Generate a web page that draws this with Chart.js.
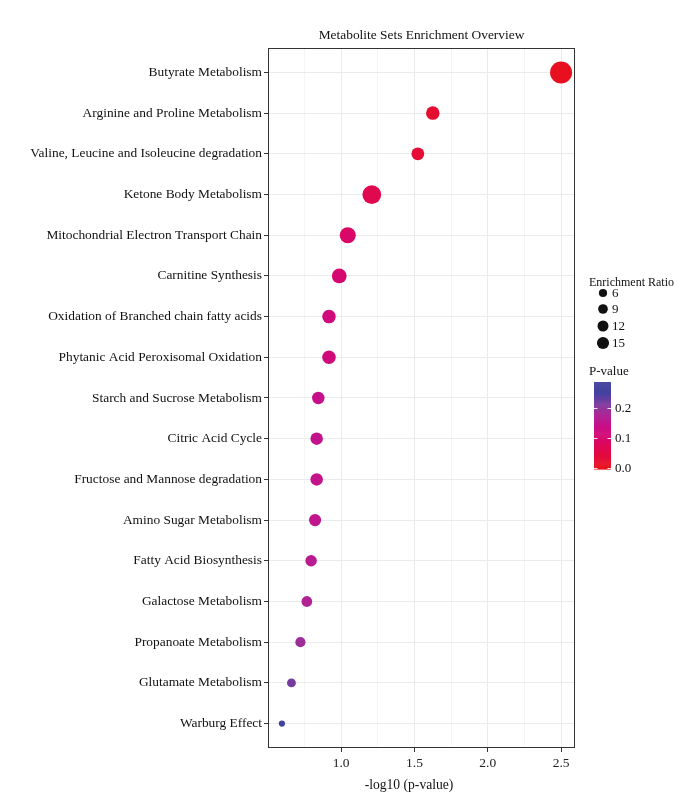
<!DOCTYPE html>
<html>
<head>
<meta charset="utf-8">
<script src="https://cdn.jsdelivr.net/npm/chart.js@4"></script>
<style>
html,body{margin:0;padding:0;background:#fff;}
#wrap{width:689px;height:805px;}
</style>
</head>
<body>
<div id="wrap"><canvas id="c" width="689" height="805"></canvas></div>
<script>
const categories = [
  "Butyrate Metabolism",
  "Arginine and Proline Metabolism",
  "Valine, Leucine and Isoleucine degradation",
  "Ketone Body Metabolism",
  "Mitochondrial Electron Transport Chain",
  "Carnitine Synthesis",
  "Oxidation of Branched chain fatty acids",
  "Phytanic Acid Peroxisomal Oxidation",
  "Starch and Sucrose Metabolism",
  "Citric Acid Cycle",
  "Fructose and Mannose degradation",
  "Amino Sugar Metabolism",
  "Fatty Acid Biosynthesis",
  "Galactose Metabolism",
  "Propanoate Metabolism",
  "Glutamate Metabolism",
  "Warburg Effect"
];
const negLog10P = [2.50, 1.625, 1.523, 1.209, 1.045, 0.987, 0.917, 0.917, 0.844, 0.833, 0.833, 0.822, 0.795, 0.766, 0.722, 0.661, 0.596];
const enrichmentRatio = [53, 19, 17, 38, 27.6, 23, 19, 19, 16, 16, 16, 15, 13.3, 11.5, 10, 7.3, 2.8];
const xTicks = [0.75, 1.0, 1.25, 1.5, 1.75, 2.0, 2.25, 2.5];
const sizeLegendValues = [6, 9, 12, 15];
const pLegendTicks = [0.0, 0.1, 0.2];

const pValues = negLog10P.map(v => Math.pow(10, -v));
const P_MAX = 0.28;
// colour ramp stops (position in 0..1 of the p-value range, colour)
const rampPos = [0, 0.2, 0.36, 0.5, 0.65, 0.78, 0.9, 1.0];
const rampCol = ["#E8111C", "#E2084A", "#D6086F", "#C80E88", "#A82A98", "#753C9E", "#4242A0", "#4A4AA2"];

function hex2rgb(h){h=h.replace('#','');return [0,2,4].map(i=>parseInt(h.substr(i,2),16));}
const rampRGB = rampCol.map(hex2rgb);
function colorFor(p){
  const t=Math.max(0,Math.min(1,p/P_MAX));
  let k=0; while(k<rampPos.length-2 && t>rampPos[k+1]) k++;
  const u=(t-rampPos[k])/(rampPos[k+1]-rampPos[k]);
  const a=rampRGB[k], b=rampRGB[k+1];
  const c=a.map((v,i)=>Math.round(v+(b[i]-v)*u));
  return `rgb(${c[0]},${c[1]},${c[2]})`;
}
function radiusFor(ratio){ return Math.sqrt(2.22*ratio + 3.5); }

const FONT = "'Liberation Serif', 'Times New Roman', serif";
const TXT = "#111";

const legendPlugin = {
  id: 'customLegend',
  afterDraw(chart){
    const ctx = chart.ctx, area = chart.chartArea;
    ctx.save();
    // panel border
    ctx.strokeStyle = '#333'; ctx.lineWidth = 1;
    ctx.strokeRect(area.left+0.5, area.top+0.5, area.right-area.left-1, area.bottom-area.top-1);
    // title
    ctx.fillStyle = TXT; ctx.font = "13.4px " + FONT;
    ctx.textAlign = 'center'; ctx.textBaseline = 'middle';
    ctx.fillText("Metabolite Sets Enrichment Overview", (area.left+area.right)/2, 35);
    // x axis title
    ctx.font = "13.6px " + FONT;
    ctx.fillText("-log10 (p-value)", 409, 785);
    // size legend
    ctx.textAlign = 'left';
    ctx.font = "12px " + FONT;
    ctx.fillText("Enrichment Ratio", 589, 283);
    const ys = [293, 309, 326, 343];
    ctx.font = "13px " + FONT;
    sizeLegendValues.forEach((v,i)=>{
      ctx.beginPath(); ctx.fillStyle = '#111';
      ctx.arc(603, ys[i], radiusFor(v), 0, Math.PI*2); ctx.fill();
      ctx.fillStyle = TXT; ctx.fillText(String(v), 612, ys[i]+1);
    });
    // colour legend
    ctx.font = "13px " + FONT;
    ctx.fillText("P-value", 589, 372);
    const x0 = 594, w = 17, yTop = 382, yBot = 469;
    const yOf = p => 467.5 - p*300;
    const pTop = (467.5 - yTop)/300, pBot = (467.5 - yBot)/300;
    const n = 90;
    for (let i=0;i<n;i++){
      const y1 = yBot - (yBot-yTop)*i/n, y2 = yBot - (yBot-yTop)*(i+1)/n;
      const p = pBot + (pTop-pBot)*(i+0.5)/n;
      ctx.fillStyle = colorFor(Math.max(0,p));
      ctx.fillRect(x0, y2, w, y1-y2+0.6);
    }
    ctx.strokeStyle = 'rgba(255,255,255,0.9)'; ctx.lineWidth = 1;
    pLegendTicks.forEach(p=>{
      const y = Math.round(yOf(p))+0.5;
      ctx.beginPath(); ctx.moveTo(x0, y); ctx.lineTo(x0+3.5, y);
      ctx.moveTo(x0+w-3.5, y); ctx.lineTo(x0+w, y); ctx.stroke();
      ctx.fillStyle = TXT; ctx.fillText(p.toFixed(1), 615, y);
    });
    ctx.restore();
  }
};

const isMajor = v => Math.abs(v*2 - Math.round(v*2)) < 1e-6;

new Chart(document.getElementById('c'), {
  type: 'scatter',
  data: {
    datasets: [{
      data: negLog10P.map((x,i)=>({x: x, y: i})),
      pointRadius: ctx => radiusFor(enrichmentRatio[ctx.dataIndex]),
      pointHoverRadius: ctx => radiusFor(enrichmentRatio[ctx.dataIndex]),
      pointBackgroundColor: ctx => colorFor(pValues[ctx.dataIndex]),
      pointBorderWidth: 0,
      pointBorderColor: 'rgba(0,0,0,0)'
    }]
  },
  options: {
    responsive: false,
    animation: false,
    devicePixelRatio: 1,
    layout: { padding: { top: 48, right: 114, left: 0, bottom: 0 } },
    plugins: { legend: { display: false }, tooltip: { enabled: false }, title: { display: false } },
    scales: {
      x: {
        type: 'linear', min: 0.501, max: 2.595,
        afterBuildTicks: s => { s.ticks = xTicks.map(v => ({ value: v })); },
        afterFit: s => { s.height = 57; },
        ticks: {
          autoSkip: false, maxRotation: 0, padding: 3,
          callback: v => isMajor(v) ? v.toFixed(1) : '',
          font: { family: FONT, size: 13.5 }, color: '#222'
        },
        grid: {
          color: ctx => (ctx.tick && isMajor(ctx.tick.value)) ? '#EBEBEB' : '#F2F2F2',
          lineWidth: ctx => (ctx.tick && isMajor(ctx.tick.value)) ? 1 : 0.8,
          tickColor: ctx => (ctx.tick && isMajor(ctx.tick.value)) ? '#333' : 'rgba(0,0,0,0)',
          tickLength: 4, drawTicks: true
        },
        border: { display: false },
        title: { display: false }
      },
      y: {
        type: 'linear', min: -0.6, max: 16.6, reverse: true,
        afterBuildTicks: s => { s.ticks = categories.map((c,i) => ({ value: i })); },
        afterFit: s => { s.width = 268; },
        ticks: {
          autoSkip: false, padding: 2,
          callback: v => categories[v],
          font: { family: FONT, size: 13.4 }, color: TXT
        },
        grid: { color: '#EBEBEB', lineWidth: 1, tickColor: '#333', tickLength: 4 },
        border: { display: false }
      }
    }
  },
  plugins: [legendPlugin]
});
</script>
</body>
</html>
